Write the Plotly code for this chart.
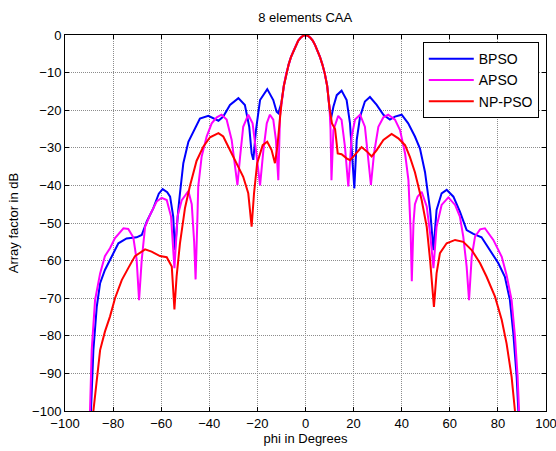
import plotly.graph_objects as go

main_phi = [-9, -8, -7, -6, -5, -4, -3, -2, -1, 0, 1, 2, 3, 4, 5, 6, 7, 8, 9]
main_db = [-13.5, -10.2, -7.8, -5.8, -4.2, -2.7, -1.5, -0.7, -0.2, 0, -0.2, -0.7, -1.5, -2.7, -4.2, -5.8, -7.8, -10.2, -13.5]

bpso_left_phi = [-89.2, -88.2, -86.8, -85.4, -83.4, -80.6, -77.8, -74.4, -70.2, -68.1, -66.0, -63.3, -61.0, -59.4,
                 -57.5, -56.3, -55.0, -54.3, -53.6, -52.9, -52.2, -50.8, -48.7, -46.6, -43.9, -40.4, -38.3, -36.2,
                 -34.2, -31.4, -27.9, -25.2, -23.4, -22.4, -21.7, -20.6, -18.9, -15.9, -13.4, -12.0, -11.3, -10.6, -10.0]
bpso_left_db = [-100, -83.8, -72.3, -66, -62.5, -58.8, -55.4, -54.1, -53.8, -53.2, -49.6, -46.1, -42.2, -41.0,
                -41.8, -43, -48.3, -57.2, -51, -46.5, -42.1, -34.1, -28.4, -25.7, -22.2, -21.5, -22.2, -22.8,
                -21.7, -18.6, -16.8, -18.6, -24.4, -31.5, -33.2, -25.3, -17.3, -14.4, -17.3, -20.4, -20.8, -19.5, -18.0]
bpso_right_phi = [10.0, 10.5, 11.6, 13.0, 15.0, 17.1, 18.5, 19.6, 20.3, 21.3, 22.7, 24.7, 26.8, 29.6, 32.4, 35.1,
                  37.2, 40.0, 42.7, 45.5, 47.6, 49.7, 51.8, 53.2, 54.5, 56.6, 58.7, 61.5, 64.2, 67.0, 69.8, 73.2,
                  76.7, 80.2, 82.9, 85.0, 86.4, 87.8, 88.5]
bpso_right_db = [-19.5, -22.6, -19.1, -16, -14.8, -17.3, -23.5, -34.1, -40.8, -27.9, -21.7, -17.7, -16.5, -18.6,
                 -21.2, -22.5, -21.7, -21.2, -23.5, -27, -30.2, -36.5, -46.5, -57.2, -46.5, -42.1, -41.2, -43,
                 -47, -51.9, -52.9, -53.8, -57.2, -60.7, -64.3, -70.5, -79.3, -90.9, -100]

apso_left_phi = [-89.6, -88.9, -87.5, -85.4, -83.4, -81.3, -79.2, -75.7, -73.7, -71.6, -70.2, -69.2, -68.1, -66.7,
                 -64.7, -61.9, -59.8, -57.7, -55.9, -54.5, -53.2, -51.5, -48.7, -47.3, -46.3, -45.7, -45.0, -44.6,
                 -43.2, -41.1, -39.0, -36.9, -34.9, -32.8, -30.7, -29.3, -28.3, -27.2, -25.9, -23.8, -22.0, -20.6,
                 -18.9, -17.5, -16.1, -14.8, -13.4, -12.3, -11.3, -10.6, -10.0]
apso_left_db = [-100, -83.8, -70.5, -63.4, -58.8, -56.7, -54, -51.4, -51.6, -53.8, -59.8, -70.5, -59.8, -51,
                -47.9, -44.3, -43.3, -43.9, -48.3, -62, -48.3, -44, -41.5, -45, -55, -65, -50, -40.3,
                -32.4, -27, -23.5, -21.9, -21.2, -22.5, -27.9, -34.1, -39.9, -32.4, -24.4, -21.2, -23.5, -30.6,
                -40, -30.6, -23.5, -21.2, -22.5, -27.9, -38.6, -21.5, -18.0]
apso_right_phi = [10.0, 10.4, 10.8, 11.6, 13.6, 15.0, 16.4, 17.8, 19.2, 20.6, 22.7, 24.7, 26.1, 27.2, 28.5, 30.3,
                  32.4, 34.4, 37.2, 39.3, 41.4, 42.8, 43.7, 44.2, 44.9, 45.5, 46.6, 48.3, 50.4, 51.8, 53.2, 54.5,
                  56.6, 59.4, 62.2, 64.2, 65.6, 67.0, 68.0, 69.1, 70.5, 72.6, 74.6, 78.1, 81.6, 83.6, 85.7, 87.1,
                  88.2, 88.8]
apso_right_db = [-19.5, -25, -38.6, -25.3, -21.5, -22.6, -29.7, -40.3, -27, -22.5, -21.2, -24.4, -32.4, -39.9,
                 -31.5, -24.4, -21.9, -21.2, -22.5, -25.3, -31.5, -38.6, -51.9, -65.5, -50, -45, -43, -41.7,
                 -45.6, -52.7, -62, -51, -45.2, -43.2, -45.2, -48.3, -53.6, -61.6, -70.5, -59, -53.6, -51.7,
                 -51.4, -54.5, -59, -63.8, -70.5, -80.2, -90.9, -100]

nppso_left_phi = [-88.2, -86.8, -85.4, -83.4, -81.3, -79.2, -76.4, -73.7, -70.9, -66.7, -64.0, -60.5, -57.7, -55.6,
                  -54.5, -53.6, -52.2, -50.1, -48.0, -45.3, -42.5, -39.7, -36.2, -34.2, -31.4, -28.6, -25.9, -23.8,
                  -22.4, -21.4, -20.1, -17.8, -15.9, -14.1, -12.7, -11.7, -10.6, -10.0]
nppso_left_db = [-100, -90.9, -83.8, -78.9, -74.9, -70, -65.2, -62, -58.8, -57, -57.6, -58.8, -59.1, -61.6,
                 -73, -64.3, -55.4, -46, -40, -33.5, -29.7, -27.2, -26.1, -27, -30.6, -34.1, -37.7, -42.1,
                 -51, -42.1, -34.1, -29.3, -28.4, -30.6, -34.1, -29.7, -21.5, -18.0]
nppso_right_phi = [10.0, 11.0, 12.3, 13.4, 15.0, 17.1, 18.5, 20.6, 23.3, 25.4, 27.5, 29.6, 32.4, 35.8, 38.6, 41.4,
                   43.4, 45.5, 48.3, 50.4, 51.8, 53.4, 54.5, 55.9, 58.7, 62.2, 65.6, 69.1, 72.6, 75.3, 78.8, 81.6,
                   83.6, 85.7, 87.1]
nppso_right_db = [-19.5, -23.5, -25, -31.5, -31.7, -32.8, -33.3, -31.8, -29.8, -30.9, -32.3, -30.6, -27.9, -26.3,
                  -27.5, -29.3, -32.4, -36.5, -43.9, -51, -59.8, -72.3, -63.4, -58, -55.4, -54.5, -55, -57.2,
                  -60.7, -64.3, -69.6, -75.8, -82, -90.9, -100]

x_ticks = [-100, -80, -60, -40, -20, 0, 20, 40, 60, 80, 100]
y_ticks = [-100, -90, -80, -70, -60, -50, -40, -30, -20, -10, 0]

series = [
    ("BPSO", "#0000FF", bpso_left_phi, bpso_left_db, bpso_right_phi, bpso_right_db),
    ("APSO", "#FF00FF", apso_left_phi, apso_left_db, apso_right_phi, apso_right_db),
    ("NP-PSO", "#FF0000", nppso_left_phi, nppso_left_db, nppso_right_phi, nppso_right_db),
]

fig = go.Figure()
for name, color, lp, ld, rp, rd in series:
    fig.add_trace(go.Scatter(
        x=lp + main_phi + rp, y=ld + main_db + rd, mode="lines", name=name,
        line=dict(color=color, width=2),
    ))

FAM = "Arial, Liberation Sans, sans-serif"
font = dict(family=FAM, size=13, color="#000000")
axis_common = dict(
    showline=True, linecolor="#000000", linewidth=1, mirror="ticks",
    ticks="inside", ticklen=4, tickcolor="#000000",
    showgrid=True, gridcolor="#8c8c8c", griddash="1px,1px", gridwidth=1,
    zeroline=False, tickfont=font, automargin=False, ticklabeloverflow="allow",
)
fig.update_layout(
    width=556, height=451,
    margin=dict(l=65, r=10, t=35, b=40),
    paper_bgcolor="#FFFFFF", plot_bgcolor="#FFFFFF",
    font=font,
    title=dict(text="8 elements CAA", x=0.549, xanchor="center", xref="container", y=0.962, yanchor="middle",
               font=dict(family=FAM, size=13, color="#000000")),
    xaxis=dict(range=[-100, 100], tickvals=x_ticks,
               title=dict(text="phi in Degrees", standoff=2, font=font), **axis_common),
    yaxis=dict(range=[-100, 0], tickvals=y_ticks,
               title=dict(text="Array factor in dB", standoff=10, font=font), **axis_common),
    legend=dict(x=0.985, y=0.981, xanchor="right", yanchor="top", bgcolor="#FFFFFF",
                bordercolor="#000000", borderwidth=1, font=dict(family=FAM, size=14, color="#000000"),
                tracegroupgap=0, itemwidth=45),
    showlegend=True,
)
fig.write_html("out.html", config={"displayModeBar": False},
               post_script="document.body.style.margin='0';document.body.style.padding='0';"
                           "document.body.style.overflow='hidden';")
